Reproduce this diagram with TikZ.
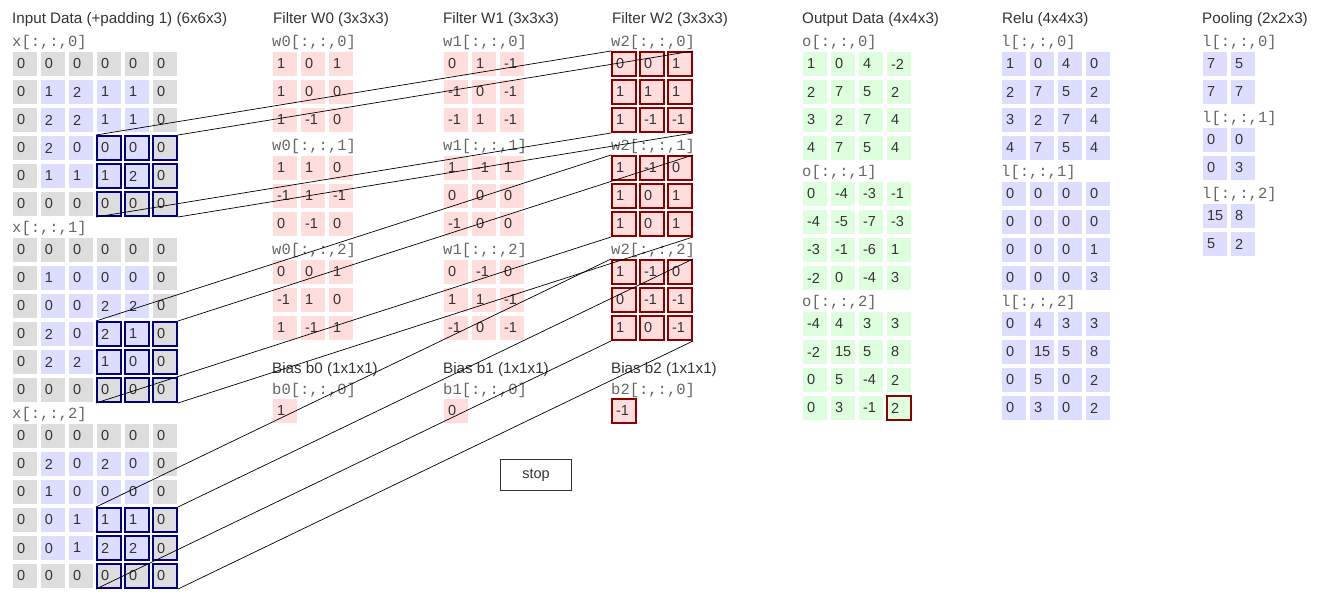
\documentclass[tikz,border=0pt]{standalone}
\usepackage{fontspec}
\setmainfont{Liberation Sans}
\setmonofont{Liberation Mono}
\usepackage{tikz}
\usepackage{xcolor}
\definecolor{cellgray}{RGB}{221,221,221}
\definecolor{cellblue}{RGB}{221,221,255}
\definecolor{cellpink}{RGB}{255,221,221}
\definecolor{cellgreen}{RGB}{221,255,221}
\definecolor{winblue}{RGB}{0,0,128}
\definecolor{winred}{RGB}{140,0,0}
\definecolor{txtgray}{RGB}{51,51,51}

\begin{document}
\begin{tikzpicture}[x=1pt, y=-1pt,
  every node/.style={font=\fontsize{14.5}{17}\selectfont, text=txtgray},
  title/.style={anchor=west, inner sep=0pt, font=\fontsize{15.2}{18}\selectfont},
  slabel/.style={anchor=west, inner sep=0pt, font=\ttfamily\fontsize{15.5}{17}\selectfont, text=black!60},
  cell/.style={anchor=north west, minimum width=24pt, minimum height=24pt, inner sep=0pt, text width=16pt, align=left, line width=2pt},
  wire/.style={line width=0.7pt, black},
  stopbtn/.style={draw=black!80, line width=1.4pt, fill=white, minimum width=71pt, minimum height=31pt, inner sep=0pt}
]
\useasboundingbox (0,0) rectangle (1334,603);

% Titles
\node[title] (tin) at (12,20) {Input Data (+padding 1) (6x6x3)};
\foreach \f/\fx in {0/273,1/443,2/612}
  \node[title] (tw\f) at (\fx,20) {Filter W\f{} (3x3x3)};
\node[title] (tout) at (802,20) {Output Data (4x4x3)};
\node[title] (trelu) at (1002,20) {Relu (4x4x3)};
\node[title] (tpool) at (1202,20) {Pooling (2x2x3)};

% Input data (padded), window on the last 3x3 block
\foreach \ch/\slice in {0/{{0,0,0,0,0,0},{0,1,2,1,1,0},{0,2,2,1,1,0},{0,2,0,0,0,0},{0,1,1,1,2,0},{0,0,0,0,0,0}},%
  1/{{0,0,0,0,0,0},{0,1,0,0,0,0},{0,0,0,2,2,0},{0,2,0,2,1,0},{0,2,2,1,0,0},{0,0,0,0,0,0}},%
  2/{{0,0,0,0,0,0},{0,2,0,2,0,0},{0,1,0,0,0,0},{0,0,1,1,1,0},{0,0,1,2,2,0},{0,0,0,0,0,0}}}{
  \node[slabel] (xl\ch) at (12,{42+186*\ch}) {x[:,:,\ch]};
  \foreach \row [count=\r from 0] in \slice {
    \foreach \v [count=\c from 0] in \row {
      \def\fc{cellblue}
      \ifnum\r=0 \def\fc{cellgray}\fi
      \ifnum\r=5 \def\fc{cellgray}\fi
      \ifnum\c=0 \def\fc{cellgray}\fi
      \ifnum\c=5 \def\fc{cellgray}\fi
      \def\ec{none}
      \ifnum\r>2 \ifnum\c>2 \def\ec{winblue}\fi\fi
      \node[cell, fill=\fc, draw=\ec] (x\ch-\r-\c) at ({12+28*\c},{51+186*\ch+28*\r}) {\v};
    }
  }
}

% Filters
\foreach \f/\fx/\ch/\slice in {0/272/0/{{1,0,1},{1,0,0},{1,-1,0}},%
  0/272/1/{{1,1,0},{-1,1,-1},{0,-1,0}},%
  0/272/2/{{0,0,1},{-1,1,0},{1,-1,1}},%
  1/443/0/{{0,1,-1},{-1,0,-1},{-1,1,-1}},%
  1/443/1/{{1,-1,1},{0,0,0},{-1,0,0}},%
  1/443/2/{{0,-1,0},{1,1,-1},{-1,0,-1}},%
  2/611/0/{{0,0,1},{1,1,1},{1,-1,-1}},%
  2/611/1/{{1,-1,0},{1,0,1},{1,0,1}},%
  2/611/2/{{1,-1,0},{0,-1,-1},{1,0,-1}}}{
  \def\ec{none}
  \ifnum\f=2 \def\ec{winred}\fi
  \node[slabel] (wl\f-\ch) at (\fx,{42+104*\ch}) {w\f[:,:,\ch]};
  \foreach \row [count=\r from 0] in \slice {
    \foreach \v [count=\c from 0] in \row {
      \node[cell, fill=cellpink, draw=\ec] (w\f-\ch-\r-\c) at ({\fx+28*\c},{51+104*\ch+28*\r}) {\v};
    }
  }
}

% Biases
\foreach \f/\fx/\b in {0/272/1,1/443/0,2/611/-1}{
  \def\ec{none}
  \ifnum\f=2 \def\ec{winred}\fi
  \node[title] (bt\f) at (\fx,370) {Bias b\f{} (1x1x1)};
  \node[slabel] (bl\f) at (\fx,390) {b\f[:,:,0]};
  \node[cell, fill=cellpink, draw=\ec] (b\f) at (\fx,398) {\b};
}

% Output data
\foreach \ch/\slice in {0/{{1,0,4,-2},{2,7,5,2},{3,2,7,4},{4,7,5,4}},%
  1/{{0,-4,-3,-1},{-4,-5,-7,-3},{-3,-1,-6,1},{-2,0,-4,3}},%
  2/{{-4,4,3,3},{-2,15,5,8},{0,5,-4,2},{0,3,-1,2}}}{
  \node[slabel] (ol\ch) at (802,{42+130*\ch}) {o[:,:,\ch]};
  \foreach \row [count=\r from 0] in \slice {
    \foreach \v [count=\c from 0] in \row {
      \def\ec{none}
      \ifnum\ch=2 \ifnum\r=3 \ifnum\c=3 \def\ec{winred}\fi\fi\fi
      \node[cell, fill=cellgreen, draw=\ec] (o\ch-\r-\c) at ({802+28*\c},{51+130*\ch+28*\r}) {\v};
    }
  }
}

% Relu
\foreach \ch/\slice in {0/{{1,0,4,0},{2,7,5,2},{3,2,7,4},{4,7,5,4}},%
  1/{{0,0,0,0},{0,0,0,0},{0,0,0,1},{0,0,0,3}},%
  2/{{0,4,3,3},{0,15,5,8},{0,5,0,2},{0,3,0,2}}}{
  \node[slabel] (ll\ch) at (1001,{42+130*\ch}) {l[:,:,\ch]};
  \foreach \row [count=\r from 0] in \slice {
    \foreach \v [count=\c from 0] in \row {
      \node[cell, fill=cellblue] (l\ch-\r-\c) at ({1001+28*\c},{51+130*\ch+28*\r}) {\v};
    }
  }
}

% Pooling
\foreach \ch/\slice in {0/{{7,5},{7,7}},1/{{0,0},{0,3}},2/{{15,8},{5,2}}}{
  \node[slabel] (pl\ch) at (1202,{42+76*\ch}) {l[:,:,\ch]};
  \foreach \row [count=\r from 0] in \slice {
    \foreach \v [count=\c from 0] in \row {
      \node[cell, fill=cellblue] (p\ch-\r-\c) at ({1202+28*\c},{51+76*\ch+28*\r}) {\v};
    }
  }
}

% Stop button
\node[stopbtn] (stop) at (536,475) {stop};

% Window -> filter W2 lines
\foreach \ch in {0,1,2}{
  \draw[wire] (x\ch-3-3.north west) -- (w2-\ch-0-0.north west);
  \draw[wire] (x\ch-3-5.north east) -- (w2-\ch-0-2.north east);
  \draw[wire] (x\ch-5-3.south west) -- (w2-\ch-2-0.south west);
  \draw[wire] (x\ch-5-5.south east) -- (w2-\ch-2-2.south east);
}
\end{tikzpicture}
\end{document}
